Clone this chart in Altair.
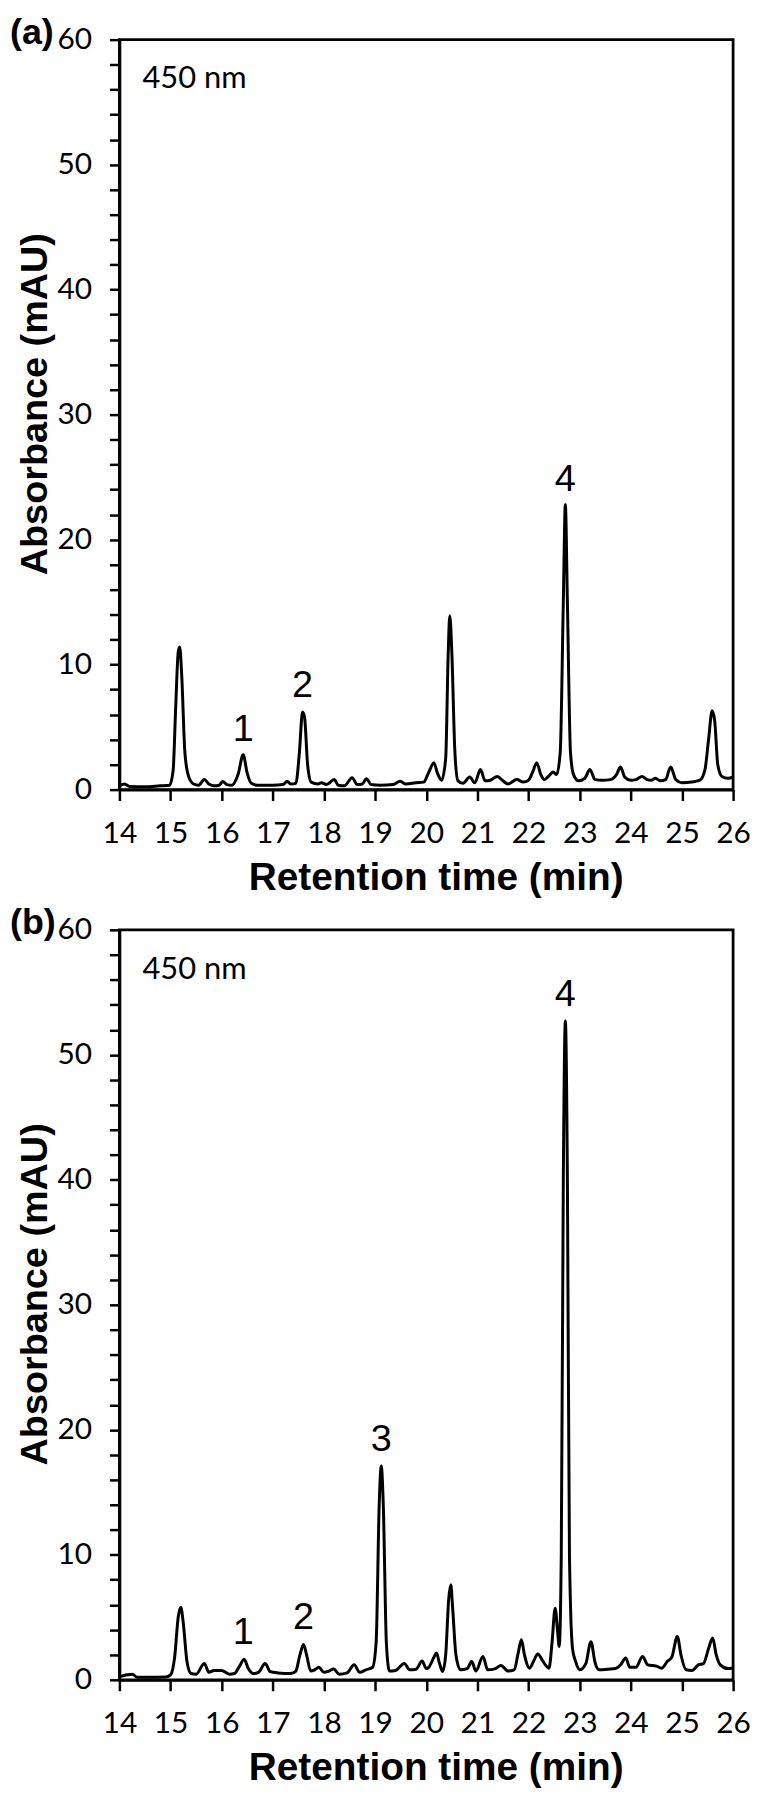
import altair as alt
import pandas as pd

# ---- panel (a) trace: retention time (min), absorbance (mAU)
t_a = [14.00, 14.10, 14.20, 14.50, 14.80, 14.98, 15.05, 15.10, 15.15, 15.18, 15.22, 15.28, 15.35, 15.45,
       15.55, 15.66, 15.75, 15.85, 15.95, 16.02, 16.10, 16.20, 16.32, 16.42, 16.50, 16.58, 16.70, 17.00,
       17.20, 17.28, 17.35, 17.45, 17.52, 17.58, 17.62, 17.68, 17.75, 17.88, 17.95, 18.05, 18.20, 18.28,
       18.40, 18.55, 18.65, 18.75, 18.83, 18.92, 19.10, 19.35, 19.49, 19.60, 19.80, 19.95, 20.04, 20.15,
       20.22, 20.30, 20.38, 20.43, 20.46, 20.50, 20.56, 20.62, 20.72, 20.85, 20.95, 21.06, 21.15, 21.25,
       21.39, 21.50, 21.60, 21.77, 21.90, 22.00, 22.08, 22.16, 22.24, 22.31, 22.40, 22.48, 22.55, 22.62,
       22.68, 22.72, 22.76, 22.82, 22.88, 22.98, 23.10, 23.20, 23.30, 23.45, 23.60, 23.72, 23.80, 23.88,
       24.00, 24.10, 24.22, 24.32, 24.40, 24.48, 24.58, 24.68, 24.78, 24.88, 25.00, 25.19, 25.35, 25.45,
       25.52, 25.59, 25.64, 25.70, 25.78, 25.90, 26.00]
v_a = [0.30, 0.45, 0.25, 0.22, 0.30, 0.35, 1.5, 6.5, 11.0, 11.4, 9.0, 3.0, 1.1, 0.45,
       0.35, 0.80, 0.45, 0.30, 0.35, 0.65, 0.40, 0.35, 1.2, 2.78, 1.3, 0.5, 0.35, 0.35,
       0.40, 0.66, 0.45, 0.5, 3.0, 6.2, 5.8, 2.0, 0.6, 0.45, 0.55, 0.40, 0.80, 0.35,
       0.30, 0.95, 0.40, 0.45, 0.87, 0.40, 0.35, 0.40, 0.66, 0.45, 0.55, 0.60, 1.3, 2.14,
       1.3, 0.75, 2.5, 11.0, 13.9, 11.0, 3.0, 0.7, 0.50, 1.0, 0.55, 1.6, 0.70, 0.75,
       1.05, 0.70, 0.45, 0.80, 0.60, 0.75, 1.4, 2.14, 1.2, 0.80, 1.1, 1.4, 1.2, 3.0,
       15.0, 22.8, 15.0, 3.0, 1.2, 0.7, 0.9, 1.6, 0.8, 0.75, 0.80, 1.2, 1.8, 1.0,
       0.75, 0.80, 1.05, 0.80, 0.75, 0.90, 0.70, 0.80, 1.8, 0.8, 0.55, 0.60, 0.75, 1.6,
       4.0, 6.3, 5.5, 2.0, 1.05, 0.9, 1.0]

# ---- panel (b) trace
t_b = [14.00, 14.15, 14.25, 14.35, 14.60, 14.90, 15.00, 15.08, 15.15, 15.20, 15.25, 15.32, 15.40, 15.50,
       15.66, 15.75, 15.85, 16.00, 16.15, 16.25, 16.35, 16.44, 16.52, 16.62, 16.72, 16.85, 16.95, 17.10,
       17.35, 17.45, 17.53, 17.60, 17.66, 17.74, 17.82, 17.90, 18.00, 18.10, 18.19, 18.30, 18.45, 18.59,
       18.70, 18.82, 18.95, 19.02, 19.08, 19.12, 19.16, 19.22, 19.28, 19.40, 19.57, 19.68, 19.80, 19.92,
       20.00, 20.05, 20.15, 20.20, 20.26, 20.32, 20.38, 20.44, 20.48, 20.52, 20.58, 20.67, 20.80, 20.89,
       20.97, 21.11, 21.20, 21.35, 21.46, 21.60, 21.72, 21.80, 21.86, 21.92, 22.02, 22.10, 22.18, 22.28,
       22.40, 22.46, 22.52, 22.57, 22.60, 22.64, 22.68, 22.72, 22.76, 22.80, 22.86, 22.92, 23.00, 23.12,
       23.22, 23.30, 23.38, 23.55, 23.70, 23.80, 23.90, 23.98, 24.10, 24.23, 24.33, 24.50, 24.60, 24.72,
       24.80, 24.91, 24.98, 25.08, 25.20, 25.32, 25.42, 25.52, 25.60, 25.67, 25.75, 25.90, 26.00]
v_b = [0.25, 0.40, 0.45, 0.20, 0.20, 0.22, 0.40, 1.8, 5.0, 5.8, 4.5, 1.5, 0.5, 0.45,
       1.3, 0.6, 0.75, 0.75, 0.45, 0.50, 1.1, 1.64, 0.9, 0.5, 0.60, 1.3, 0.65, 0.55,
       0.50, 0.7, 2.0, 2.83, 2.0, 0.7, 0.8, 1.0, 0.6, 0.7, 0.87, 0.45, 0.55, 1.2,
       0.6, 0.80, 1.0, 3.0, 14.0, 17.1, 14.0, 3.0, 0.7, 0.75, 1.3, 0.80, 0.85, 1.5,
       0.9, 1.0, 1.8, 2.14, 1.3, 0.67, 2.0, 6.5, 7.6, 5.5, 2.0, 0.8, 0.9, 1.47,
       0.7, 1.86, 0.8, 0.9, 1.15, 0.70, 0.8, 2.2, 3.2, 2.0, 0.93, 1.5, 2.06, 1.5,
       0.93, 3.0, 5.73, 3.8, 2.67, 10.0, 40.0, 52.7, 40.0, 10.0, 2.5, 1.47, 0.8, 1.3,
       3.05, 1.4, 0.8, 0.85, 0.9, 1.2, 1.75, 1.0, 1.0, 1.86, 1.2, 1.1, 0.93, 1.5,
       1.8, 3.47, 2.0, 0.8, 0.75, 1.2, 1.3, 2.5, 3.34, 2.0, 1.2, 0.9, 0.95]

# ---- peak number labels (position of the number, baseline)
lab_a_txt = ["1", "2", "4"]
lab_a_t = [16.42, 17.58, 22.72]
lab_a_v = [3.9, 7.4, 23.9]
lab_b_txt = ["1", "2", "3", "4"]
lab_b_t = [16.42, 17.60, 19.12, 22.72]
lab_b_v = [2.9, 4.1, 18.3, 53.9]

wave_txt = ["450 nm"]
wave_t = [14.45]
wave_v = [56.1]

x_ticks = list(range(14, 27))
y_ticks = list(range(0, 61, 2))

W, H = 617, 754


def panel(t, v, lt, lv, ltxt, tag):
    x = alt.X("t:Q", scale=alt.Scale(domain=[14, 26], nice=False, zero=False),
              axis=alt.Axis(values=x_ticks, title="Retention time (min)", format="d",
                            tickSize=11, labelPadding=18, labelOverlap=False, labelFlush=False,
                            titleX=318, titleY=100,
                            titleAlign="center", titleBaseline="alphabetic"))
    y = alt.Y("v:Q", scale=alt.Scale(domain=[0, 60], nice=False),
              axis=alt.Axis(values=y_ticks, title="Absorbance (mAU)",
                            labelExpr="datum.value % 10 == 0 ? datum.label : ''",
                            labelOverlap=False, titleFontSize=38,
                            tickSize=10, labelPadding=18, titleAngle=270,
                            titleX=-65, titleY=366, titleAlign="center",
                            titleBaseline="bottom"))
    line = alt.Chart(pd.DataFrame({"t": t, "v": v})).mark_line(
        color="black", strokeWidth=3, interpolate="monotone", clip=True
    ).encode(x=x, y=y)
    labels = alt.Chart(pd.DataFrame({"t": lt, "v": lv, "txt": ltxt})).mark_text(
        font="Liberation Sans", fontSize=38, align="center", baseline="alphabetic", color="black"
    ).encode(x=x, y=y, text="txt:N")
    wave = alt.Chart(pd.DataFrame({"t": wave_t, "v": wave_v, "txt": wave_txt})).mark_text(
        font="Lato", fontSize=31, align="left", baseline="alphabetic", color="black"
    ).encode(x=x, y=y, text="txt:N")
    tagm = alt.Chart(pd.DataFrame({"txt": [tag]})).mark_text(
        font="Liberation Sans", fontWeight="bold", fontSize=36, align="left",
        baseline="alphabetic", color="black"
    ).encode(x=alt.value(-110), y=alt.value(4), text="txt:N")
    return alt.layer(line, labels, wave, tagm).properties(width=W, height=H)


chart = alt.vconcat(
    panel(t_a, v_a, lab_a_t, lab_a_v, lab_a_txt, "(a)"),
    panel(t_b, v_b, lab_b_t, lab_b_v, lab_b_txt, "(b)"),
    spacing=141, bounds="flush"
).properties(
    padding={"left": 0, "top": 0, "right": 0, "bottom": 0}
).configure_view(
    stroke="black", strokeWidth=2.8
).configure_axis(
    grid=False, domainColor="black", domainWidth=2.8, tickColor="black", tickWidth=2.5,
    labelFont="Lato", labelFontSize=30, labelColor="black",
    titleFont="Liberation Sans", titleFontWeight="bold", titleFontSize=39, titleColor="black"
)

chart.save("out.html", embed_options={"renderer": "svg", "actions": False})
